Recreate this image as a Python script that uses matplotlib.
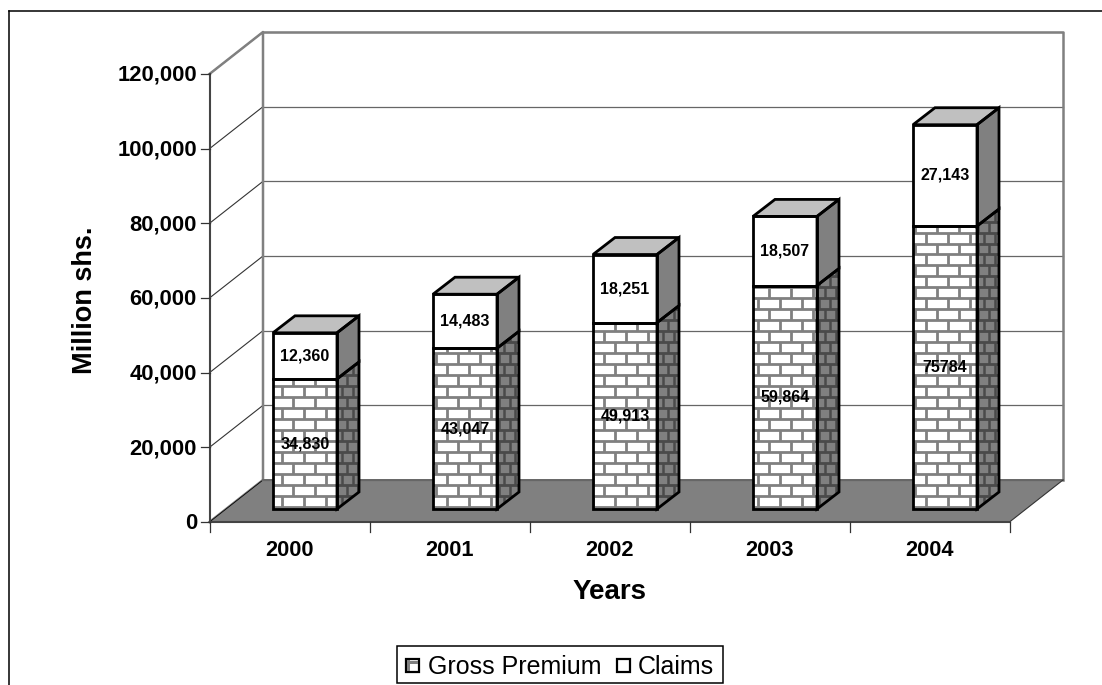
import numpy as np
import matplotlib
matplotlib.use("Agg")
import matplotlib.pyplot as plt
from matplotlib.patches import Polygon, Rectangle

plt.rcParams["font.family"] = ["Liberation Sans", "DejaVu Sans"]

years = ["2000", "2001", "2002", "2003", "2004"]
gross_premium = [34830, 43047, 49913, 59864, 75784]
claims = [12360, 14483, 18251, 18507, 27143]
gross_labels = ["34,830", "43,047", "49,913", "59,864", "75784"]
claims_labels = ["12,360", "14,483", "18,251", "18,507", "27,143"]
y_ticks = [0, 20000, 40000, 60000, 80000, 100000, 120000]

W, H = 1102, 685
PX_X = 160.0            # pixels per category
PX_Y = 448.0 / 120000   # pixels per unit
X0, Y0 = 209.5, 522     # front corner of the plot


def dx(px):
    return px / PX_X


def dy(px):
    return px / PX_Y


WALL_DX, WALL_DY = dx(53.5), dy(42)
BAR_DX, BAR_DY = dx(22), dy(17)
BAR_W = dx(64)
BAR_OFF = dx(63.5)
BASE = dy(13)
ROW_H = dy(10.96)
BRICK_W = dx(22.2)
ROW_REF = dy(Y0 - 386)
# horizontal start of the brick pattern in each bar, in pixels
BRICK_START = [9, 14, 0, 4.8, 13]

fig = plt.figure(figsize=(W / 100, H / 100), dpi=100)
ax = fig.add_axes([0, 0, 1, 1])
ax.set_xlim(-X0 / PX_X, (W - X0) / PX_X)
ax.set_ylim((Y0 - H) / PX_Y, Y0 / PX_Y)
ax.axis("off")

# outer chart frame, only top and left fall inside the image
frame_x, frame_y = dx(9 - X0), dy(Y0 - 10.5)
ax.plot([frame_x, frame_x], [dy(Y0 - H), frame_y], color="black", lw=1.1, zorder=1)
ax.plot([frame_x, dx(W - X0)], [frame_y, frame_y], color="black", lw=1.1, zorder=1)

ymax = y_ticks[-1]
n = len(years)
GRAY = "#808080"
DARK = "#4a4a4a"

# floor and walls
ax.add_patch(Polygon([(0, 0), (WALL_DX, WALL_DY), (n + WALL_DX, WALL_DY), (n, 0)],
                     fc=GRAY, ec="none", zorder=1))
for v in y_ticks:
    ax.plot([0, WALL_DX], [v, v + WALL_DY], color="#333333", lw=0.8, zorder=1)
    ax.plot([WALL_DX, n + WALL_DX], [v + WALL_DY, v + WALL_DY], color="#666666", lw=0.9, zorder=1)
ax.plot([0, WALL_DX, WALL_DX], [ymax, ymax + WALL_DY, WALL_DY], color=GRAY, lw=1.8, zorder=2)
ax.plot([WALL_DX, n + WALL_DX, n + WALL_DX], [ymax + WALL_DY, ymax + WALL_DY, WALL_DY],
        color=GRAY, lw=1.8, zorder=2)
ax.plot([WALL_DX, n + WALL_DX], [WALL_DY, WALL_DY], color="#666666", lw=1.4, zorder=2)
ax.plot([0, WALL_DX], [0, WALL_DY], color=GRAY, lw=1.8, zorder=1.5)
ax.plot([0, WALL_DX], [0, WALL_DY], color="black", lw=0.6, zorder=1.6)
ax.plot([n, n + WALL_DX], [0, WALL_DY], color="#333333", lw=0.8, zorder=2)

# axes lines and ticks
ax.plot([0, 0], [0, ymax], color="#444444", lw=1.5, zorder=2)
ax.plot([0, n], [0, 0], color="#444444", lw=1.5, zorder=2)
for v in y_ticks:
    ax.plot([-dx(9), 0], [v, v], color="#333333", lw=0.9, zorder=2)
    ax.text(-dx(12.5), v - dy(1.5), f"{v:,}", ha="right", va="center", fontsize=15.8, fontweight="bold")
for i in range(n + 1):
    ax.plot([i, i], [0, -dy(10)], color="#333333", lw=0.9, zorder=2)
for i, y in enumerate(years):
    ax.text(i + 0.5, -dy(28), y, ha="center", va="center", fontsize=15.7, fontweight="bold")

ax.text(0.5 * n, -dy(70), "Years", ha="center", va="center", fontsize=20, fontweight="bold")
ax.text(-dx(124), dy(Y0 - 300), "Million shs.", ha="center", va="center", rotation=90,
        fontsize=19.5, fontweight="bold")


def row_levels(lo, hi):
    k0 = int(np.floor((lo - ROW_REF) / ROW_H)) - 1
    k1 = int(np.ceil((hi - ROW_REF) / ROW_H)) + 1
    return [(k, ROW_REF + k * ROW_H) for k in range(k0, k1 + 1)]


def draw_bricks(x, lo, hi, start):
    # brick pattern on the front and side faces of a stacked segment
    front = Rectangle((x, lo), BAR_W, hi - lo, fc="white", ec="none", zorder=3)
    ax.add_patch(front)
    side = Polygon([(x + BAR_W, lo), (x + BAR_W + BAR_DX, lo + BAR_DY),
                    (x + BAR_W + BAR_DX, hi + BAR_DY), (x + BAR_W, hi)],
                   fc=GRAY, ec="none", zorder=3)
    ax.add_patch(side)
    for k, lev in row_levels(lo, hi + BAR_DY):
        shift = dx(start) if k % 2 == 0 else dx(start + 11)
        l = ax.plot([x, x + BAR_W], [lev, lev], color=GRAY, lw=2.0, solid_capstyle="butt", zorder=3.1)[0]
        l.set_clip_path(front)
        for j in range(-2, 4):
            xv = x + shift + j * BRICK_W
            l = ax.plot([xv, xv], [lev, lev - ROW_H], color=GRAY, lw=2.0, solid_capstyle="butt", zorder=3.1)[0]
            l.set_clip_path(front)
        l = ax.plot([x + BAR_W, x + BAR_W + BAR_DX], [lev, lev], color=DARK, lw=2.0,
                    solid_capstyle="butt", zorder=3.1)[0]
        l.set_clip_path(side)
        # side bricks are foreshortened to half width
        side_shift = (start if k % 2 == 0 else start + 11) / 2 % 11
        for j in range(0, 3):
            xv = x + BAR_W + dx(side_shift + j * 11)
            l = ax.plot([xv, xv], [lev, lev - ROW_H], color=DARK, lw=1.8, solid_capstyle="butt", zorder=3.1)[0]
            l.set_clip_path(side)


def outline(x, lo, hi, top_fill=None, side_fill=None):
    xs = [x, x + BAR_W, x + BAR_W + BAR_DX]
    if side_fill:
        ax.add_patch(Polygon([(xs[1], lo), (xs[2], lo + BAR_DY), (xs[2], hi + BAR_DY), (xs[1], hi)],
                             fc=side_fill, ec="none", zorder=3.2))
    if top_fill:
        ax.add_patch(Polygon([(xs[0], hi), (xs[0] + BAR_DX, hi + BAR_DY), (xs[2], hi + BAR_DY), (xs[1], hi)],
                             fc=top_fill, ec="none", zorder=3.2))
    ax.add_patch(Rectangle((x, lo), BAR_W, hi - lo, fc="none", ec="black", lw=2.0, zorder=3.5))
    ax.add_patch(Polygon([(xs[1], lo), (xs[2], lo + BAR_DY), (xs[2], hi + BAR_DY), (xs[1], hi)],
                         fill=False, ec="black", lw=2.0, zorder=3.5))
    if top_fill:
        ax.add_patch(Polygon([(xs[0], hi), (xs[0] + BAR_DX, hi + BAR_DY), (xs[2], hi + BAR_DY), (xs[1], hi)],
                             fill=False, ec="black", lw=2.0, zorder=3.5))


for i in range(n):
    x = i + BAR_OFF
    g_top = BASE + gross_premium[i]
    c_top = g_top + claims[i]
    draw_bricks(x, BASE, g_top, BRICK_START[i])
    outline(x, BASE, g_top)
    ax.add_patch(Rectangle((x, g_top), BAR_W, claims[i], fc="white", ec="none", zorder=3.2))
    outline(x, g_top, c_top, top_fill="#c0c0c0", side_fill=GRAY)
    ax.text(x + BAR_W / 2, BASE + gross_premium[i] / 2, gross_labels[i], ha="center", va="center",
            fontsize=11.5, fontweight="bold", zorder=5)
    ax.text(x + BAR_W / 2, g_top + claims[i] / 2, claims_labels[i], ha="center", va="center",
            fontsize=11.5, fontweight="bold", zorder=5)

# legend box
ax.add_patch(Rectangle((dx(397 - X0), dy(Y0 - 683)), dx(326), dy(37), fc="white", ec="black", lw=1.1, zorder=6))
for px, brick in ((405.5, True), (616.5, False)):
    ax.add_patch(Rectangle((dx(px - X0), dy(Y0 - 672)), dx(13.5), dy(13), fc="white", ec="black", lw=1.6, zorder=7))
    if brick:
        ax.add_patch(Rectangle((dx(px - X0 + 1), dy(Y0 - 671)), dx(3.5), dy(11), fc=GRAY, ec="none", zorder=7))
        ax.add_patch(Rectangle((dx(px - X0 + 1), dy(Y0 - 664)), dx(11.5), dy(3.5), fc=GRAY, ec="none", zorder=7))
ax.text(dx(428 - X0), dy(Y0 - 667), "Gross Premium", ha="left", va="center", fontsize=18, zorder=7)
ax.text(dx(638 - X0), dy(Y0 - 667), "Claims", ha="left", va="center", fontsize=18, zorder=7)

fig.savefig("out.png", dpi=100)
